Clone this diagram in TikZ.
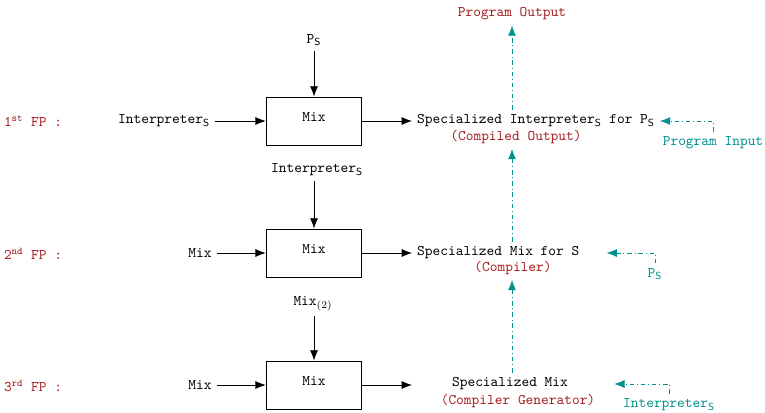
\documentclass[tikz,border=0pt]{standalone}
\usetikzlibrary{arrows.meta}
\definecolor{fpred}{RGB}{165,28,28}
\definecolor{fpteal}{RGB}{0,145,140}
\tikzset{
  mixbox/.style={draw, semithick, minimum width=65pt, minimum height=32.6pt, text depth=4.8pt, font=\ttfamily},
  lbl/.style={font=\ttfamily},
  note/.style={font=\ttfamily, text=fpred},
  side/.style={font=\ttfamily, text=fpteal},
  flow/.style={semithick, -{Latex[length=7pt,width=5.5pt]}},
  feed/.style={semithick, fpteal, dash dot, -{Latex[length=7pt,width=5.5pt]}},
}
\newcommand{\subS}{$_\mathsf{S}$}
\begin{document}
\begin{tikzpicture}[x=0.68pt,y=-0.68pt]
\useasboundingbox (0,0) rectangle (765,412);
% the three projections
\node[note] (fp1) at (33,121) {1\textsuperscript{st} FP :};
\node[note] (fp2) at (33,254) {2\textsuperscript{nd} FP :};
\node[note] (fp3) at (33,386) {3\textsuperscript{rd} FP :};
% first row
\node[lbl] (interp1) at (164,121) {Interpreter\subS};
\node[mixbox] (mix1) at (314,121) {Mix};
\node[lbl] (ps1) at (314,40) {P\subS};
\node[lbl, anchor=west] (spec1) at (412,121) {Specialized Interpreter\subS{} for P\subS};
\node[note] (compout) at (516,137) {(Compiled Output)};
\node[note] (progout) at (512,14) {Program Output};
\node[side] (pin) at (713,143) {Program Input};
% second row
\node[lbl] (interp2) at (317,170) {Interpreter\subS};
\node[lbl] (mixin2) at (200,253) {Mix};
\node[mixbox] (mix2) at (314,253) {Mix};
\node[lbl, anchor=west] (spec2) at (412,253) {Specialized Mix for S};
\node[note] (compiler) at (513,268) {(Compiler)};
\node[side] (ps2) at (655,274) {P\subS};
% third row
\node[lbl] (mixtwo) at (313,304) {Mix$_{(2)}$};
\node[lbl] (mixin3) at (200,385) {Mix};
\node[mixbox] (mix3) at (314,385) {Mix};
\coordinate (out3) at (412,385);
\node[lbl] (spec3) at (510,384) {Specialized Mix};
\node[note] (gen) at (518,401) {(Compiler Generator)};
\node[side] (interp3) at (669,405) {Interpreter\subS};
% inputs and outputs of mix
\draw[flow] (ps1.south -| mix1) -- (mix1);
\draw[flow] (interp1) -- (mix1);
\draw[flow] (mix1) -- (spec1);
\draw[flow] (interp2.south -| mix2) -- (mix2);
\draw[flow] (mixin2) -- (mix2);
\draw[flow] (mix2) -- (spec2);
\draw[flow] (mixtwo.south -| mix3) -- (mix3);
\draw[flow] (mixin3) -- (mix3);
\draw[flow] (mix3.east) -- (out3);
% running the results
\draw[feed] (progout.south |- spec1.north) -- (progout.south);
\draw[feed] (progout.south |- spec2.north) -- (progout.south |- compout.south);
\draw[feed] (progout.south |- spec3.north) -- (progout.south |- compiler.south);
\draw[feed] (pin.north) |- (spec1.east);
\draw[feed] (ps2.north) |- ([xshift=15pt]spec2.east);
\draw[feed] (interp3.north) |- ([xshift=28pt]spec3.east);
\end{tikzpicture}
\end{document}
